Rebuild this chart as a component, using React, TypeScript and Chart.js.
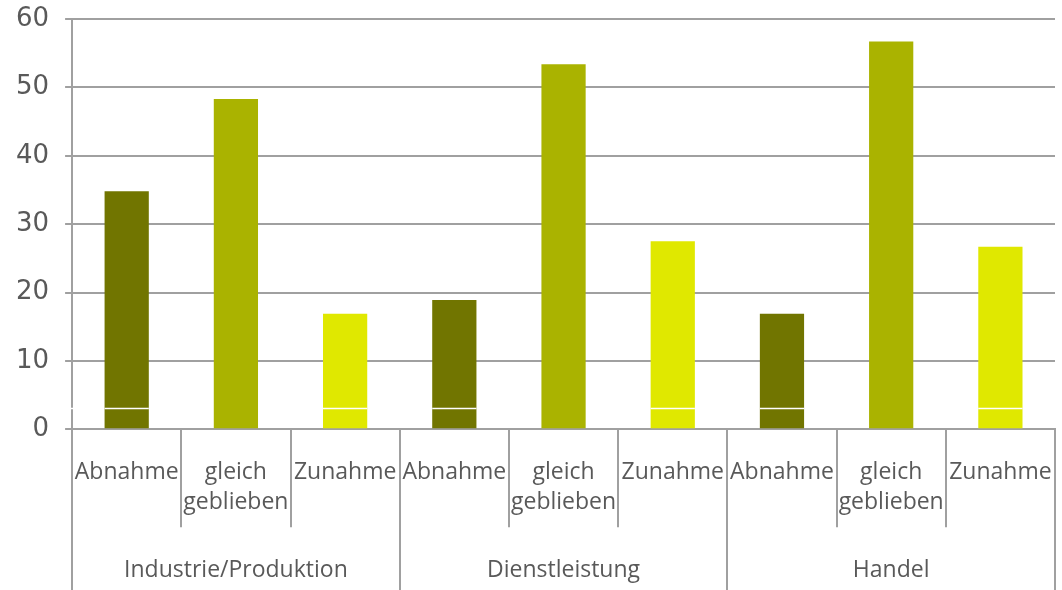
import React, { useEffect, useRef } from "react";
import { Chart, registerables } from "chart.js";

Chart.register(...registerables);

const groups = ["Industrie/Produktion", "Dienstleistung", "Handel"];
const subcategories: (string | string[])[] = ["Abnahme", ["gleich", "geblieben"], "Zunahme"];
const subColors = ["#717500", "#AAB300", "#E0E800"];
const industrieValues = [34.8, 48.3, 16.9];
const dienstleistungValues = [18.9, 53.4, 27.5];
const handelValues = [16.9, 56.7, 26.7];
const yTicks = [0, 10, 20, 30, 40, 50, 60];
const whiteRuleValue = 3.1;
const whiteRuleSubs = [0, 2];

const TEXT = "#595959";
const LINE = "#A0A0A0";
const LABEL_FONT = "'Open Sans', sans-serif";

const groupValues = [industrieValues, dienstleistungValues, handelValues];
const labels: (string | string[])[] = [];
const values: number[] = [];
const colors: string[] = [];
groups.forEach((g, gi) => {
  subcategories.forEach((s, si) => {
    labels.push(s);
    values.push(groupValues[gi][si]);
    colors.push(subColors[si]);
  });
});

const multiLevelAxis = {
  id: "multiLevelAxis",
  afterDatasetsDraw(chart: any) {
    const { ctx, chartArea, scales } = chart;
    const x = scales.x;
    const y = scales.y;
    const n = labels.length;
    const per = subcategories.length;
    const boundary = (i: number) => {
      if (i === 0) return chartArea.left;
      if (i === n) return chartArea.right;
      return (x.getPixelForValue(i - 1) + x.getPixelForValue(i)) / 2;
    };
    ctx.save();
    const meta = chart.getDatasetMeta(0);
    const yr = Math.round(y.getPixelForValue(whiteRuleValue)) + 0.5;
    ctx.strokeStyle = "#FFFFFF";
    ctx.lineWidth = 1.5;
    meta.data.forEach((bar: any, i: number) => {
      if (!whiteRuleSubs.includes(i % per)) return;
      ctx.beginPath();
      ctx.moveTo(bar.x - bar.width / 2, yr);
      ctx.lineTo(bar.x + bar.width / 2, yr);
      ctx.stroke();
    });
    ctx.beginPath();
    ctx.moveTo(chartArea.left - 2, yr);
    ctx.lineTo(chartArea.left + 2, yr);
    ctx.stroke();

    const bottom = chart.height;
    const subBottom = chartArea.bottom + 98;
    ctx.strokeStyle = LINE;
    ctx.lineWidth = 2;
    for (let i = 0; i <= n; i++) {
      const bx = Math.round(boundary(i));
      const isGroup = i % per === 0;
      ctx.beginPath();
      ctx.moveTo(bx, chartArea.bottom);
      ctx.lineTo(bx, isGroup ? bottom : subBottom);
      ctx.stroke();
    }
    ctx.fillStyle = TEXT;
    ctx.font = `23px ${LABEL_FONT}`;
    ctx.textAlign = "center";
    ctx.textBaseline = "middle";
    groups.forEach((g, gi) => {
      const cx = (boundary(gi * per) + boundary((gi + 1) * per)) / 2;
      ctx.fillText(g, cx, chartArea.bottom + 141);
    });
    ctx.restore();
  },
};

export default function App() {
  const ref = useRef<HTMLCanvasElement | null>(null);
  useEffect(() => {
    if (!ref.current) return;
    const chart = new Chart(ref.current, {
      type: "bar",
      data: {
        labels,
        datasets: [
          {
            data: values,
            backgroundColor: colors,
            borderWidth: 0,
            categoryPercentage: 1,
            barPercentage: 0.405,
          },
        ],
      },
      options: {
        responsive: false,
        animation: false,
        layout: { padding: { top: 19, left: 0, right: 7, bottom: 44 } },
        plugins: { legend: { display: false }, tooltip: { enabled: false } },
        scales: {
          x: {
            grid: { display: false, drawTicks: false },
            border: { display: true, color: LINE, width: 2 },
            afterFit: (axis: any) => {
              axis.paddingLeft = 0;
              axis.paddingRight = 0;
            },
            ticks: {
              color: TEXT,
              font: { family: LABEL_FONT, size: 23, lineHeight: 1.32 },
              padding: 28,
              maxRotation: 0,
              autoSkip: false,
            },
          },
          y: {
            min: 0,
            max: 60,
            afterBuildTicks: (axis: any) => {
              axis.ticks = yTicks.map((v) => ({ value: v }));
            },
            afterFit: (axis: any) => {
              axis.paddingTop = 0;
              axis.paddingBottom = 0;
            },
            grid: { color: LINE, lineWidth: 2, tickLength: 7, drawTicks: true },
            border: { display: true, color: LINE, width: 2 },
            ticks: {
              color: TEXT,
              font: { family: "'DejaVu Sans', sans-serif", size: 26 },
              padding: 16,
            },
          },
        },
      },
      plugins: [multiLevelAxis],
    });
    return () => chart.destroy();
  }, []);
  return (
    <canvas
      ref={ref}
      width={1062}
      height={590}
      style={{ position: "absolute", left: 0, top: 0, width: 1062, height: 590 }}
    />
  );
}
